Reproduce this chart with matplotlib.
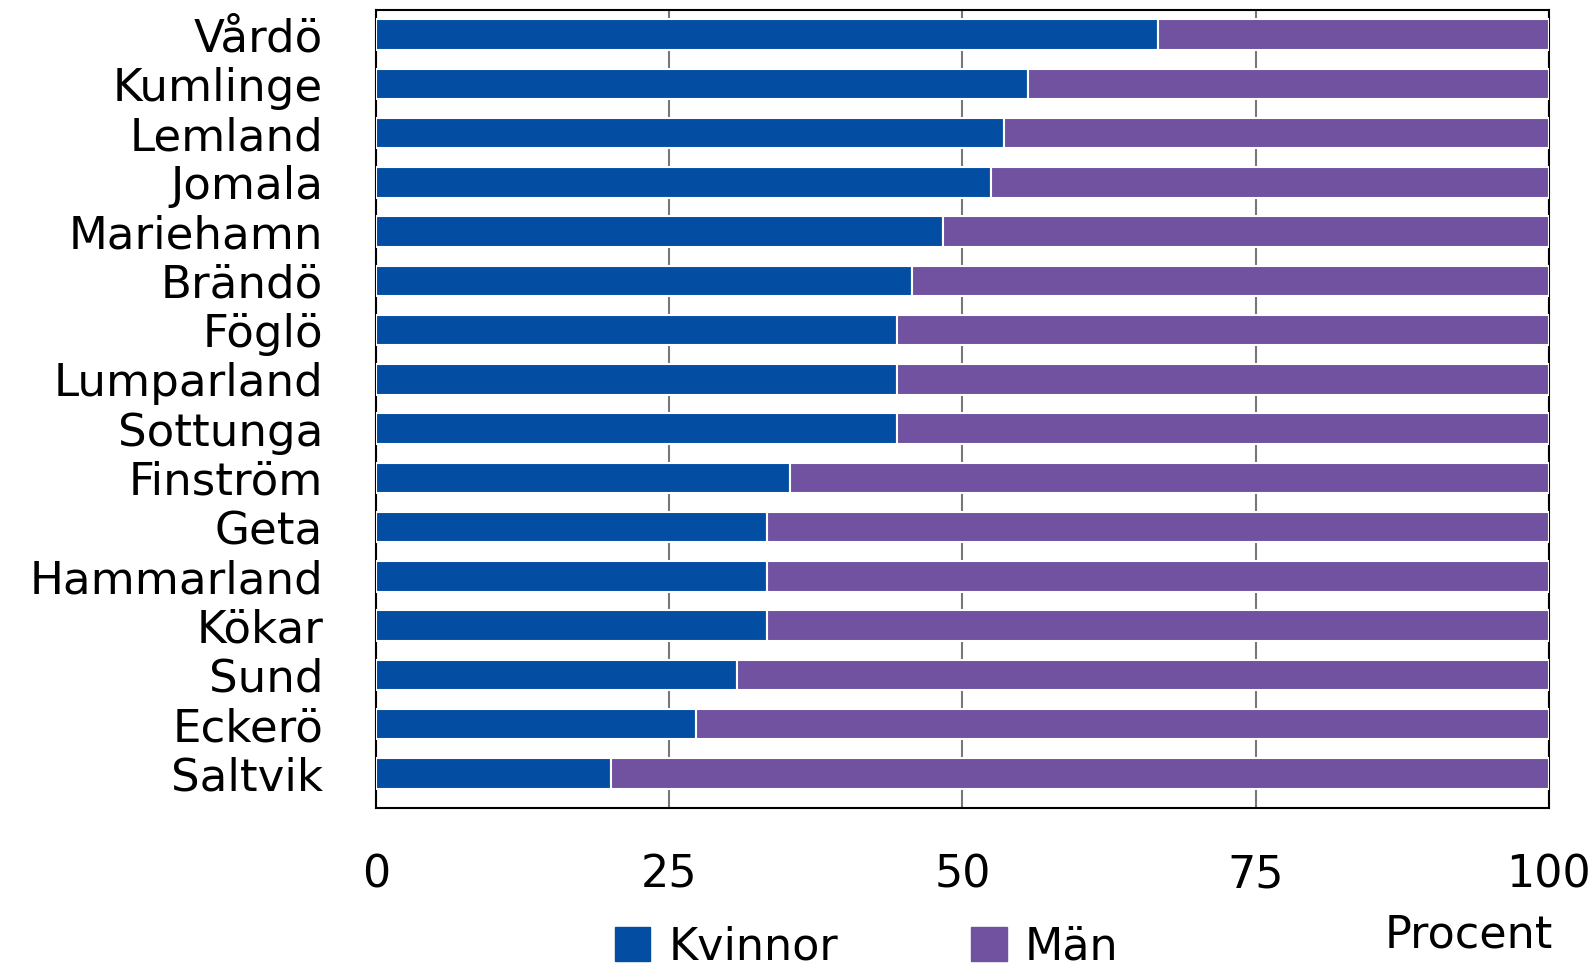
import matplotlib.pyplot as plt
from matplotlib.patches import Patch

plt.rcParams['font.family'] = ['DejaVu Sans']

kommuner = ["Vårdö", "Kumlinge", "Lemland", "Jomala", "Mariehamn", "Brändö",
            "Föglö", "Lumparland", "Sottunga", "Finström", "Geta", "Hammarland",
            "Kökar", "Sund", "Eckerö", "Saltvik"]
kvinnor = [66.7, 55.6, 53.5, 52.4, 48.3, 45.7, 44.4, 44.4, 44.4, 35.3,
           33.3, 33.3, 33.3, 30.8, 27.3, 20.0]
man = [100 - k for k in kvinnor]

blue = "#034ea2"
purple = "#7052a0"

fig = plt.figure(figsize=(15.96, 9.66), dpi=100)
ax = fig.add_axes([0.2356, 0.1636, 0.7349, 0.826])

y = range(len(kommuner))
ax.barh(y, kvinnor, height=0.62, color=blue, edgecolor="white", linewidth=1.5, zorder=3)
ax.barh(y, man, left=kvinnor, height=0.62, color=purple, edgecolor="white", linewidth=1.5, zorder=3)

ax.set_xlim(0, 100)
ax.set_ylim(len(kommuner) - 0.5 + 0.2, -0.5)
ax.set_yticks(list(y))
ax.set_yticklabels(kommuner, fontsize=32.5)
ax.set_xticks([0, 25, 50, 75, 100])
ax.set_xticklabels(["0", "25", "50", "75", "100"], fontsize=32)
ax.tick_params(axis="y", length=0, pad=38)
ax.tick_params(axis="x", length=0, pad=33)
ax.grid(axis="x", color="#777777", linewidth=1.5, zorder=0)
for s in ax.spines.values():
    s.set_color("black")
    s.set_linewidth(1.5)

fig.text(0.92, 0.032, "Procent", fontsize=32, ha="center", va="center")

handles = [Patch(color=blue, label="Kvinnor"), Patch(color=purple, label="Män")]
fig.legend(handles=handles, loc="center", bbox_to_anchor=(0.543, 0.02), ncol=2,
           frameon=False, fontsize=32, handlelength=0.8, handleheight=0.8,
           columnspacing=3.0, handletextpad=0.4)

fig.savefig("out.png", dpi=100)
